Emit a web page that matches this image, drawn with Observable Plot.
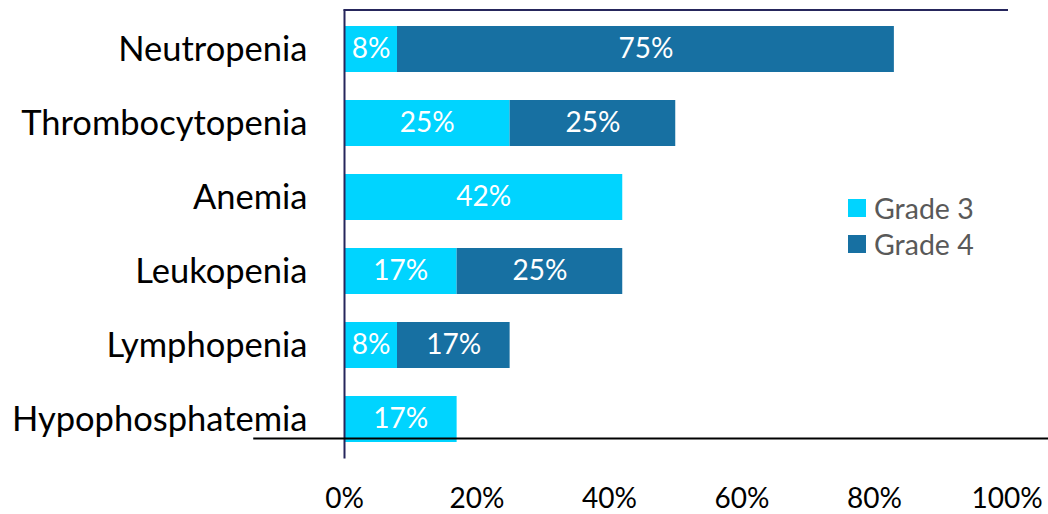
<!DOCTYPE html>
<html>
<head>
<meta charset="utf-8">
<script src="https://cdn.jsdelivr.net/npm/d3@7"></script>
<script src="https://cdn.jsdelivr.net/npm/@observablehq/plot@0.6"></script>
<style>
  html, body { margin: 0; padding: 0; background: #fff; }
  #wrap { position: relative; width: 1048px; height: 514px; }
  .legend { position: absolute; left: 848px; top: 190px; font-family: Lato, sans-serif; font-size: 28.5px; color: #595959; }
  .legend .row { display: flex; align-items: center; height: 36px; }
  .legend .sw { width: 18px; height: 18px; margin-right: 8px; }
</style>
</head>
<body>
<div id="wrap"></div>
<script>
const categories = ["Neutropenia", "Thrombocytopenia", "Anemia", "Leukopenia", "Lymphopenia", "Hypophosphatemia"];
const grade3 = [8, 25, 42, 17, 8, 17];
const grade4 = [75, 25, 0, 25, 17, 0];
const series = ["Grade 3", "Grade 4"];
const colors = ["#00D4FF", "#1770A2"];
const xTicks = [0, 20, 40, 60, 80, 100];

const data = [
  ...categories.map((c, i) => ({category: c, grade: series[0], value: grade3[i]})),
  ...categories.map((c, i) => ({category: c, grade: series[1], value: grade4[i]}))
];

const chart = Plot.plot({
  width: 1048,
  height: 514,
  marginLeft: 344,
  marginRight: 41.5,
  marginTop: 9.6,
  marginBottom: 55.6,
  style: {fontFamily: "Lato, sans-serif", background: "#fff"},
  x: {domain: [0, 100]},
  y: {domain: categories, paddingInner: 0.385, paddingOuter: 0.1925},
  color: {domain: series, range: colors},
  marks: [
    Plot.barX(data, Plot.stackX({x: "value", y: "category", fill: "grade", order: series})),
    Plot.text(data.filter(d => d.value > 0), Plot.stackX({
      x: "value", y: "category", z: "grade", order: series,
      text: d => d.value + "%", fill: "white", fontSize: 28
    })),
    Plot.axisX({ticks: xTicks, tickFormat: d => d + "%", tickSize: 0, tickPadding: 29, fontSize: 28, fill: "#000", label: null}),
    Plot.axisY({tickSize: 0, tickPadding: 37, fontSize: 34.5, fill: "#000", label: null}),
    Plot.ruleX([0], {stroke: "#26265C", strokeWidth: 2}),
    Plot.frame({anchor: "top", stroke: "#26265C", strokeWidth: 2}),
    Plot.ruleY(["Hypophosphatemia"], {dy: 19, x1: -13.7, x2: 106.3, stroke: "#000", strokeWidth: 2})
  ]
});

const wrap = document.getElementById("wrap");
wrap.appendChild(chart);

const legend = document.createElement("div");
legend.className = "legend";
series.forEach((s, i) => {
  const row = document.createElement("div");
  row.className = "row";
  const sw = document.createElement("div");
  sw.className = "sw";
  sw.style.background = colors[i];
  const t = document.createElement("span");
  t.textContent = s;
  row.appendChild(sw);
  row.appendChild(t);
  legend.appendChild(row);
});
wrap.appendChild(legend);
</script>
</body>
</html>
